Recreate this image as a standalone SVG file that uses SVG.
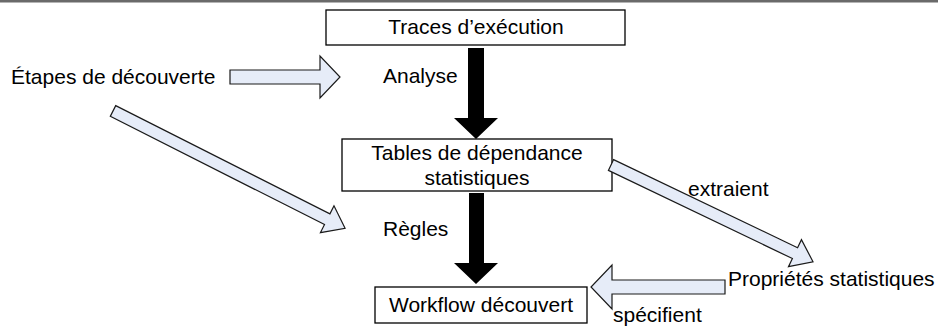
<svg xmlns="http://www.w3.org/2000/svg" width="938" height="326" viewBox="0 0 938 326">
<style>
text{font-family:"Liberation Sans",Arial,sans-serif;font-size:21px;fill:#000}
.box{fill:#fff;stroke:#000;stroke-width:1.3}
.blk{fill:#000;stroke:none}
.blue{fill:#E6ECF8;stroke:#1a1a1a;stroke-width:1.2;stroke-linejoin:miter}
</style>
<rect x="0" y="0" width="938" height="2.5" fill="#6a6a6a"/>
<g id="n-traces">
<rect class="box" x="326" y="10" width="299" height="35"/>
<text x="476" y="34" text-anchor="middle">Traces d’exécution</text>
</g>
<g id="n-tables">
<rect class="box" x="342" y="139" width="270" height="52"/>
<text x="477" y="160" text-anchor="middle">Tables de dépendance</text>
<text x="477" y="185" text-anchor="middle">statistiques</text>
</g>
<g id="n-workflow">
<rect class="box" x="375" y="287" width="212" height="36"/>
<text x="481" y="312" text-anchor="middle">Workflow découvert</text>
</g>
<g id="n-etapes">
<text x="11" y="84">Étapes de découverte</text>
</g>
<g id="n-proprietes">
<text x="728" y="286">Propriétés statistiques</text>
</g>
<g id="connectors">
<polygon class="blk" points="468,48 484,48 484,118 498,118 476,139 454,118 468,118"/>
<text x="383" y="83">Analyse</text>
<polygon class="blk" points="469,193 484,193 484,263 498,263 476,284 454,263 469,263"/>
<text x="383" y="236">Règles</text>
<polygon class="blue" points="230,70 320,70 320,56 340,77 320,98 320,84 230,84"/>
<polygon class="blue" transform="translate(113,111) rotate(26.8)" points="0,-6 240,-6 240,-15 260,0 240,15 240,6 0,6"/>
<polygon class="blue" transform="translate(611,165) rotate(25.6)" points="0,-6 204,-6 204,-15 224,0 204,15 204,6 0,6"/>
<text x="688" y="196">extraient</text>
<polygon class="blue" points="725,280 612,280 612,265 591,287 612,309 612,294 725,294"/>
<text x="613" y="322">spécifient</text>
</g>
</svg>
